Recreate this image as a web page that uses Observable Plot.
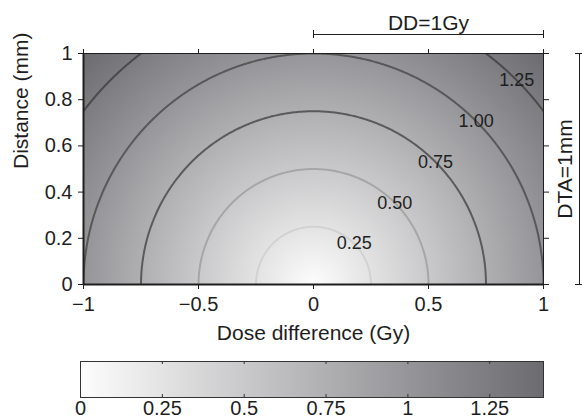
<!DOCTYPE html>
<html><head><meta charset="utf-8">
<script src="https://cdn.jsdelivr.net/npm/d3@7"></script>
<script src="https://cdn.jsdelivr.net/npm/@observablehq/plot@0.6"></script>
<style>
body{margin:0;background:#fff;}
svg{display:block;overflow:visible}
</style></head><body>
<div id="chart"></div>
<script>
// ---- data ----
const xDomain = [-1, 1];                 // dose difference (Gy)
const yDomain = [0, 1];                  // distance (mm)
const xTicks = [-1, -0.5, 0, 0.5, 1];
const yTicks = [0, 0.2, 0.4, 0.6, 0.8, 1];
const contourLevels = [0.25, 0.5, 0.75, 1.0, 1.25];
const contourLabels = ["0.25", "0.50", "0.75", "1.00", "1.25"];
const contourColors = ["#d2d2d2", "#a6a6a6", "#5a5a5a", "#585858", "#4a4a4a"];
const colorbarTicks = [0, 0.25, 0.5, 0.75, 1, 1.25];
const DD = 1;    // dose-difference criterion (Gy)
const DTA = 1;   // distance-to-agreement criterion (mm)
const colorRange = ["#fdfdfd", "#6b6b70"];
const xLabel = "Dose difference (Gy)";
const yLabel = "Distance (mm)";

// gamma index
const gamma = (x, y) => Math.hypot(x / DD, y / DTA);
const gammaMax = gamma(xDomain[1], yDomain[1]);
const FONT = "'Liberation Sans', Arial, Helvetica, sans-serif";
const fmt = d => d < 0 ? "\u2212" + Math.abs(d) : String(d);
const labelData = contourLevels.map((lv, i) => ({x: lv * Math.SQRT1_2, y: lv * Math.SQRT1_2, label: contourLabels[i]}));
const colorScale = {type: "linear", domain: [0, gammaMax], range: colorRange};
const ink = "#1e1e1e";

const main = Plot.plot({
  width: 582, height: 345,
  marginLeft: 83, marginRight: 39, marginTop: 53, marginBottom: 61,
  style: {fontFamily: FONT, fontSize: "20px", color: ink, background: "white", overflow: "visible"},
  x: {domain: xDomain},
  y: {domain: yDomain},
  color: colorScale,
  marks: [
    Plot.raster({fill: gamma, x1: xDomain[0], x2: xDomain[1], y1: yDomain[0], y2: yDomain[1], pixelSize: 1}),
    ...contourLevels.map((lv, i) => Plot.contour({
      value: gamma,
      x1: xDomain[0] - 0.1, x2: xDomain[1] + 0.1, y1: yDomain[0] - 0.1, y2: yDomain[1] + 0.1,
      thresholds: [lv], fill: "none", stroke: contourColors[i], strokeWidth: 2, clip: true, pixelSize: 1
    })),
    Plot.text(labelData, {x: "x", y: "y", text: "label", fontSize: 18, fill: ink}),
    Plot.frame({stroke: ink}),
    Plot.ruleX([xDomain[0]], {stroke: ink, strokeWidth: 2}),
    Plot.ruleY([yDomain[0]], {stroke: ink, strokeWidth: 2}),
    Plot.axisX({ticks: xTicks, tickFormat: fmt, tickSize: 5, tickPadding: 7, label: null, stroke: ink}),
    Plot.axisX({anchor: "top", ticks: xTicks, tickFormat: () => "", tickSize: 5, label: null, stroke: ink}),
    Plot.axisY({ticks: yTicks, tickFormat: fmt, tickSize: 5, tickPadding: 6, label: null, stroke: ink}),
    Plot.axisY({anchor: "right", ticks: yTicks, tickFormat: () => "", tickSize: 5, label: null, stroke: ink}),
    Plot.text([xLabel], {text: d => d, frameAnchor: "bottom", dy: 55, fontSize: 21, fill: ink}),
    Plot.text([yLabel], {text: d => d, frameAnchor: "left", dx: -62, rotate: -90, fontSize: 21, fill: ink}),
    // DD bracket above
    Plot.ruleY([yDomain[1]], {x1: () => 0, x2: () => DD, dy: -19, stroke: ink}),
    Plot.ruleX([0, DD], {y1: () => yDomain[1], y2: () => yDomain[1], insetTop: -4, insetBottom: -4, dy: -19, stroke: ink}),
    Plot.text([`DD=${DD}Gy`], {text: d => d, x: () => DD / 2, y: () => yDomain[1], dy: -30, fontSize: 21, fill: ink}),
    // DTA bracket at right
    Plot.ruleX([xDomain[1]], {y1: () => 0, y2: () => DTA, dx: 36, stroke: ink}),
    Plot.ruleY([0, DTA], {x1: () => xDomain[1], x2: () => xDomain[1], insetLeft: -4, insetRight: -4, dx: 36, stroke: ink}),
    Plot.text([`DTA=${DTA}mm`], {text: d => d, x: () => xDomain[1], y: () => DTA / 2, dx: 22, rotate: -90, fontSize: 21, fill: ink})
  ]
});

const cb = Plot.plot({
  width: 582, height: 73,
  marginLeft: 80, marginRight: 39, marginTop: 16, marginBottom: 21,
  style: {fontFamily: FONT, fontSize: "20px", color: ink, background: "white", overflow: "visible"},
  x: {domain: [0, gammaMax]},
  y: {domain: [0, 1], axis: null},
  color: colorScale,
  marks: [
    Plot.raster({fill: (x, y) => x, x1: 0, x2: gammaMax, y1: 0, y2: 1, pixelSize: 1}),
    Plot.frame({stroke: "#333"}),
    Plot.ruleX(colorbarTicks.slice(1), {y1: () => 0, y2: () => 0, insetTop: -3, stroke: "#333"}),
    Plot.ruleX(colorbarTicks.slice(1), {y1: () => 1, y2: () => 1, insetBottom: -3, stroke: "#333"}),
    Plot.axisX({ticks: colorbarTicks, tickFormat: fmt, tickSize: 0, tickPadding: 3, label: null})
  ]
});

const root = document.getElementById("chart");
root.appendChild(main);
root.appendChild(cb);
</script>
</body></html>
